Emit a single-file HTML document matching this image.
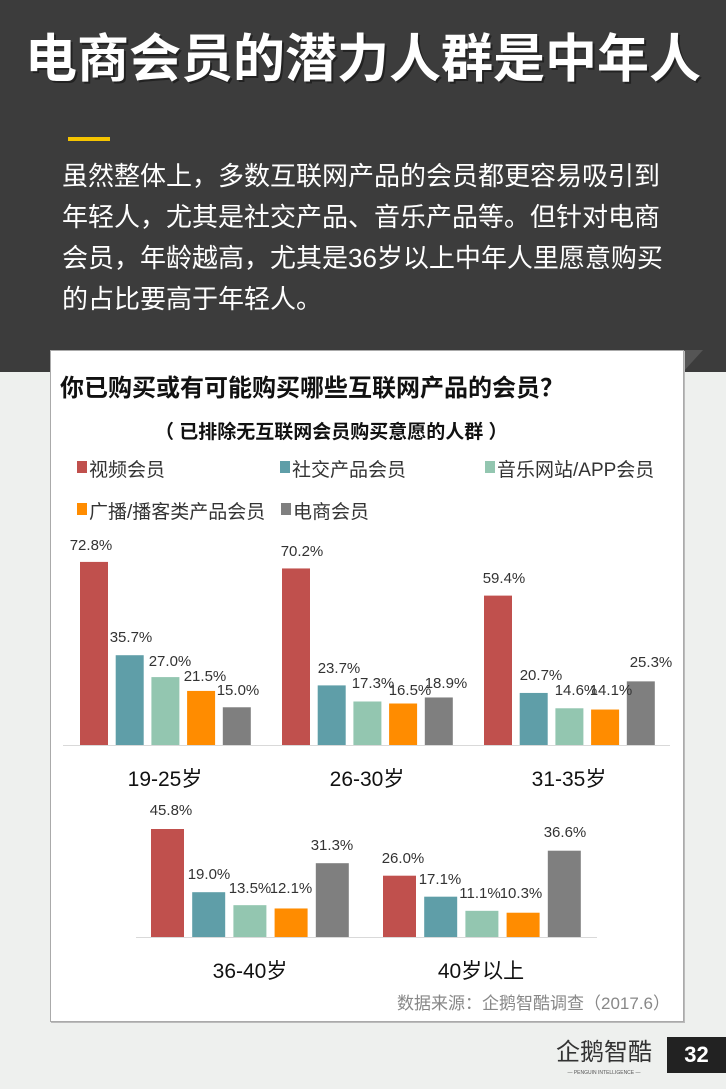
<!DOCTYPE html>
<html><head><meta charset="utf-8"><style>
body{margin:0;width:726px;height:1089px;background:#eef0ee;overflow:hidden;font-family:"Liberation Sans","Noto Sans CJK SC",sans-serif;position:relative}
.top{position:absolute;left:0;top:0;width:726px;height:372px;background:#3c3c3c}
.title{position:absolute;left:0;top:28px;width:726px;text-align:center;color:#fff;font-size:52px;font-weight:bold;line-height:64px;white-space:nowrap;text-shadow:2px 2px 0 #222}
.bar{position:absolute;left:68px;top:137px;width:42px;height:4px;background:#f5c400}
.para{position:absolute;left:62px;top:156px;width:660px;color:#fff;font-size:26px;line-height:41px;white-space:nowrap}
.card{position:absolute;left:50px;top:350px;width:632px;height:670px;background:#fff;border:1px solid #aaa;box-shadow:1px 1px 0 #bbb}
.shadow{position:absolute;left:683px;top:350px;width:0;height:0;border-left:20px solid #555;border-bottom:22px solid transparent}
.pg{position:absolute;left:667px;top:1037px;width:59px;height:36px;background:#222;color:#fff;font-size:22px;font-weight:bold;text-align:center;line-height:36px}
</style></head><body>
<div class="top"></div>
<div class="title">电商会员的潜力人群是中年人</div>
<div class="bar"></div>
<div class="para">虽然整体上，多数互联网产品的会员都更容易吸引到<br>年轻人，尤其是社交产品、音乐产品等。但针对电商<br>会员，年龄越高，尤其是36岁以上中年人里愿意购买<br>的占比要高于年轻人。</div>
<div class="shadow"></div>
<div class="card"></div>
<svg width="726" height="1089" style="position:absolute;left:0;top:0" font-family="Liberation Sans, Noto Sans CJK SC, sans-serif">
<text x="60" y="396" font-size="24" font-weight="bold" fill="#111">你已购买或有可能购买哪些互联网产品的会员？</text>
<text x="155" y="438" font-size="19" font-weight="bold" fill="#111">（ 已排除无互联网会员购买意愿的人群 ）</text>
<g font-size="19" fill="#333">
<rect x="77" y="461" width="10" height="12" fill="#c0504d"/><text x="89" y="476">视频会员</text>
<rect x="280" y="461" width="10" height="12" fill="#5f9ea8"/><text x="292" y="476">社交产品会员</text>
<rect x="485" y="461" width="10" height="12" fill="#93c6b0"/><text x="497" y="476">音乐网站/APP会员</text>
<rect x="77" y="503" width="10" height="12" fill="#ff8c00"/><text x="89" y="518">广播/播客类产品会员</text>
<rect x="281" y="503" width="10" height="12" fill="#7f7f7f"/><text x="293" y="518">电商会员</text>
</g>
<line x1="63" y1="745.5" x2="670" y2="745.5" stroke="#d9d9d9"/>
<line x1="136" y1="937.5" x2="597" y2="937.5" stroke="#d9d9d9"/>
<g id="bars"></g>
<g font-size="15" fill="#333" text-anchor="middle">
<text x="91" y="550">72.8%</text><text x="131" y="642">35.7%</text><text x="170" y="666">27.0%</text><text x="205" y="681">21.5%</text><text x="238" y="695">15.0%</text>
<text x="302" y="556">70.2%</text><text x="339" y="673">23.7%</text><text x="373" y="688">17.3%</text><text x="410" y="695">16.5%</text><text x="446" y="688">18.9%</text>
<text x="504" y="583">59.4%</text><text x="541" y="680">20.7%</text><text x="576" y="695">14.6%</text><text x="611" y="695">14.1%</text><text x="651" y="667">25.3%</text>
<text x="171" y="815">45.8%</text><text x="209" y="879">19.0%</text><text x="250" y="893">13.5%</text><text x="291" y="893">12.1%</text><text x="332" y="850">31.3%</text>
<text x="403" y="863">26.0%</text><text x="440" y="884">17.1%</text><text x="480" y="898">11.1%</text><text x="521" y="898">10.3%</text><text x="565" y="837">36.6%</text>
</g>
<g font-size="21" fill="#111" text-anchor="middle">
<text x="165" y="786">19-25岁</text><text x="367" y="786">26-30岁</text><text x="569" y="786">31-35岁</text>
<text x="250" y="978">36-40岁</text><text x="481" y="978">40岁以上</text>
</g>
<text x="670" y="1009" font-size="17" fill="#888" text-anchor="end">数据来源：企鹅智酷调查（2017.6）</text>
<text x="604" y="1060" font-size="24" fill="#333" text-anchor="middle">企鹅智酷</text>
<text x="604" y="1074" font-size="5" fill="#555" text-anchor="middle">— PENGUIN INTELLIGENCE —</text>
</svg>
<div class="pg">32</div>
<script>
var C=["#c0504d","#5f9ea8","#93c6b0","#ff8c00","#7f7f7f"];
var g=document.getElementById("bars"),s="";
function grp(x0,pitch,w,base,sc,v){v.forEach(function(d,i){var h=d*sc;s+='<rect x="'+(x0+i*pitch)+'" y="'+(base-h)+'" width="'+w+'" height="'+h+'" fill="'+C[i]+'"/>';});}
grp(80,35.7,28,745,2.515,[72.8,35.7,27.0,21.5,15.0]);
grp(282,35.7,28,745,2.515,[70.2,23.7,17.3,16.5,18.9]);
grp(484,35.7,28,745,2.515,[59.4,20.7,14.6,14.1,25.3]);
grp(151,41.2,33,937,2.358,[45.8,19.0,13.5,12.1,31.3]);
grp(383,41.2,33,937,2.358,[26.0,17.1,11.1,10.3,36.6]);
g.innerHTML=s;
</script>
</body></html>
